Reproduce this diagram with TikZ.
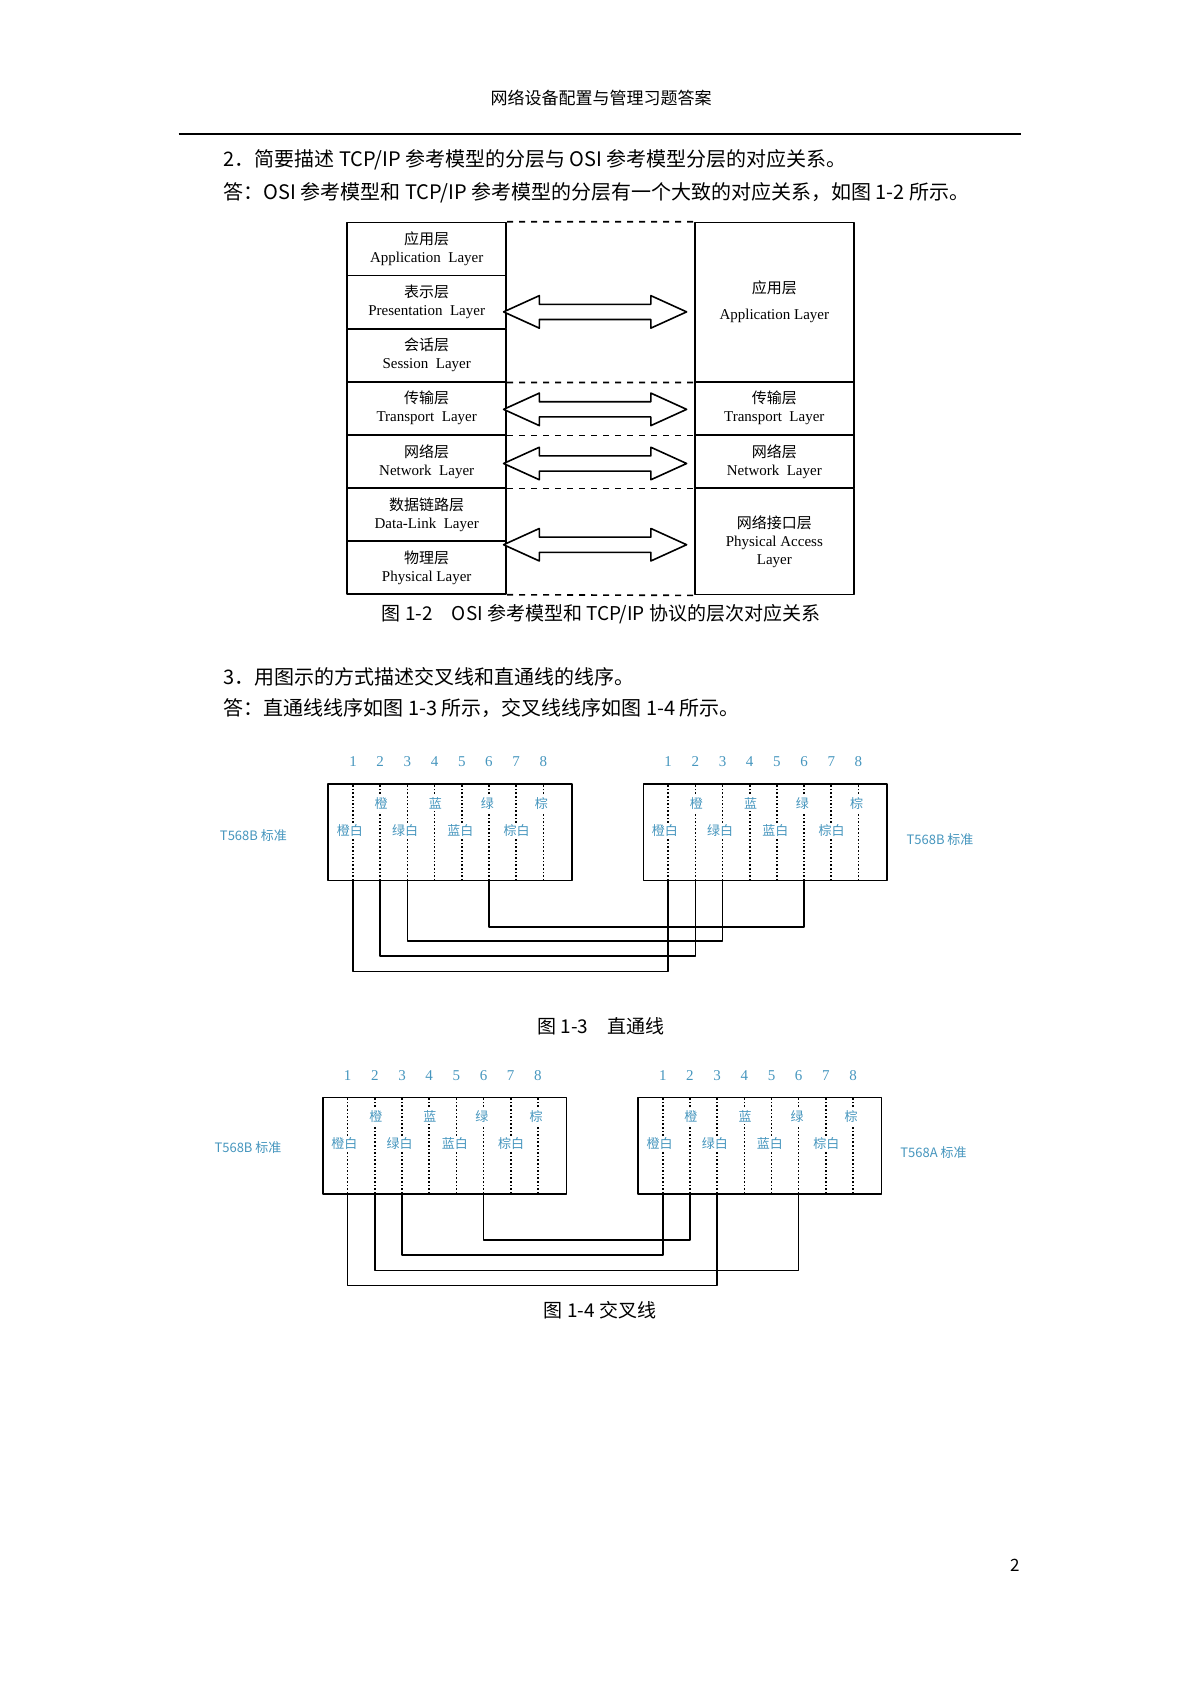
\documentclass[tikz,border=0pt]{standalone}
\usepackage{fontspec}
\setmainfont{Liberation Serif}
\newfontfamily\cjk{Noto Sans CJK SC}
\definecolor{pinblue}{RGB}{70,150,190}
\begin{document}
\begin{tikzpicture}[x=0.5415pt, y=-0.5415pt, line join=round,
  layer/.style={draw, thick, minimum width=79.6pt, inner sep=0, align=center, font=\fontsize{7.5}{9}\selectfont},
  sep/.style={dashed, thick},
  box/.style={draw, thick, minimum width=121.8pt, minimum height=48.2pt, inner sep=0},
  pin/.style={densely dotted, thick},
  wire/.style={thick},
  num/.style={text=pinblue, font=\fontsize{7.5}{9}\selectfont},
  col/.style={text=pinblue, fill=white, inner sep=1pt, font=\cjk\fontsize{6.5}{8}\selectfont},
  body/.style={anchor=west, font=\cjk\fontsize{10}{12}\selectfont}]
\useasboundingbox (0,0) rectangle (1100,1555);
% page text
\node[font=\cjk\fontsize{8.5}{10}\selectfont] (head) at (555,90) {网络设备配置与管理习题答案};
\draw[thick] (165,124) -- (943,124);
\node[body] (q2) at (200,148) {2．简要描述 TCP/IP 参考模型的分层与 OSI 参考模型分层的对应关系。};
\node[body] (a2) at (200,178) {答：OSI 参考模型和 TCP/IP 参考模型的分层有一个大致的对应关系，如图 1-2 所示。};
% OSI model
\node[layer, minimum height=26.5pt] (app)  at (394,230) {{\cjk 应用层}\\Application\ \ Layer};
\node[layer, minimum height=26.5pt] (pre)  at (394,279) {{\cjk 表示层}\\Presentation\ \ Layer};
\node[layer, minimum height=26.5pt] (ses)  at (394,328) {{\cjk 会话层}\\Session\ \ Layer};
\node[layer, minimum height=26.5pt] (tra)  at (394,377) {{\cjk 传输层}\\Transport\ \ Layer};
\node[layer, minimum height=26.5pt] (net)  at (394,426) {{\cjk 网络层}\\Network\ \ Layer};
\node[layer, minimum height=26.5pt] (dll)  at (394,475) {{\cjk 数据链路层}\\Data-Link\ \ Layer};
\node[layer, minimum height=26.5pt] (phy)  at (394,524) {{\cjk 物理层}\\Physical Layer};
\node[layer, minimum height=79.6pt] (tapp) at (715,279) {{\cjk 应用层}\\[4pt]Application Layer};
\node[layer, minimum height=26.5pt] (ttra) at (715,377) {{\cjk 传输层}\\Transport\ \ Layer};
\node[layer, minimum height=26.5pt] (tnet) at (715,426) {{\cjk 网络层}\\Network\ \ Layer};
\node[layer, minimum height=53.1pt] (tacc) at (715,500) {{\cjk 网络接口层}\\Physical Access\\Layer};
\draw[sep] (app.north east) -- (tapp.north west);
\draw[sep] (ses.south east) -- (tapp.south west);
\draw[sep] (tra.south east) -- (ttra.south west);
\draw[sep] (net.south east) -- (tnet.south west);
\draw[sep] (phy.south east) -- (tacc.south west);
\foreach \y in {288,378,428,503}
  \draw[thick, fill=white] (465,\y) -- (498,\y-15) -- (498,\y-7) -- (601,\y-7) -- (601,\y-15)
    -- (634,\y) -- (601,\y+15) -- (601,\y+7) -- (498,\y+7) -- (498,\y+15) -- cycle;
\node[font=\cjk\fontsize{9.5}{11}\selectfont] (cap2) at (555,567) {图 1-2\quad OSI 参考模型和 TCP/IP 协议的层次对应关系};
\node[body] (q3) at (200,625) {3．用图示的方式描述交叉线和直通线的线序。};
\node[body] (a3) at (200,654) {答：直通线线序如图 1-3 所示，交叉线线序如图 1-4 所示。};
% straight-through cable
\node[box] (sa) at (415.5,768.5) {};
\node[box] (sb) at (706.5,768.5) {};
\foreach \i in {1,...,8} {
  \coordinate (sa\i) at (326+25.1*\i-25.1,813);
  \coordinate (sb\i) at (617+25.1*\i-25.1,813);
  \node[num] at (326+25.1*\i-25.1,703) {\i};
  \node[num] at (617+25.1*\i-25.1,703) {\i};
  \draw[pin] (sa\i) -- ++(0,-89);
  \draw[pin] (sb\i) -- ++(0,-89);
}
\foreach \b/\s in {sa/0,sb/291} {
  \node[col] at (352+\s,742) {橙}; \node[col] at (402+\s,742) {蓝};
  \node[col] at (450+\s,742) {绿}; \node[col] at (500+\s,742) {棕};
  \node[col] at (323+\s,767) {橙白}; \node[col] at (374+\s,767) {绿白};
  \node[col] at (425+\s,767) {蓝白}; \node[col] at (477+\s,767) {棕白};
}
\node[col] (stda) at (234,772) {T568B 标准};
\node[col] (stdb) at (868,775) {T568B 标准};
\draw[wire] (sa1) -- ++(0,84) -| (sb1);
\draw[wire] (sa2) -- ++(0,70) -| (sb2);
\draw[wire] (sa3) -- ++(0,56) -| (sb3);
\draw[wire] (sa6) -- ++(0,43) -| (sb6);
\node[font=\cjk\fontsize{9.5}{11}\selectfont] (cap3) at (555,948) {图 1-3\quad 直通线};
% crossover cable
\node[box] (ca) at (410.5,1058) {};
\node[box] (cb) at (701.5,1058) {};
\foreach \i in {1,...,8} {
  \coordinate (ca\i) at (321+25.1*\i-25.1,1102);
  \coordinate (cb\i) at (612+25.1*\i-25.1,1102);
  \node[num] at (321+25.1*\i-25.1,993) {\i};
  \node[num] at (612+25.1*\i-25.1,993) {\i};
  \draw[pin] (ca\i) -- ++(0,-88);
  \draw[pin] (cb\i) -- ++(0,-88);
}
\foreach \b/\s in {ca/0,cb/291} {
  \node[col] at (347+\s,1031) {橙}; \node[col] at (397+\s,1031) {蓝};
  \node[col] at (445+\s,1031) {绿}; \node[col] at (495+\s,1031) {棕};
  \node[col] at (318+\s,1056) {橙白}; \node[col] at (369+\s,1056) {绿白};
  \node[col] at (420+\s,1056) {蓝白}; \node[col] at (472+\s,1056) {棕白};
}
\node[col] (stdc) at (229,1060) {T568B 标准};
\node[col] (stdd) at (862,1064) {T568A 标准};
\draw[wire] (ca1) -- ++(0,85) -| (cb3);
\draw[wire] (ca2) -- ++(0,71) -| (cb6);
\draw[wire] (ca3) -- ++(0,57) -| (cb1);
\draw[wire] (ca6) -- ++(0,43) -| (cb2);
\node[font=\cjk\fontsize{9.5}{11}\selectfont] (cap4) at (554,1210) {图 1-4 交叉线};
\node[font=\cjk\fontsize{8.5}{10}\selectfont] (pg) at (937,1445) {2};
\end{tikzpicture}
\end{document}
